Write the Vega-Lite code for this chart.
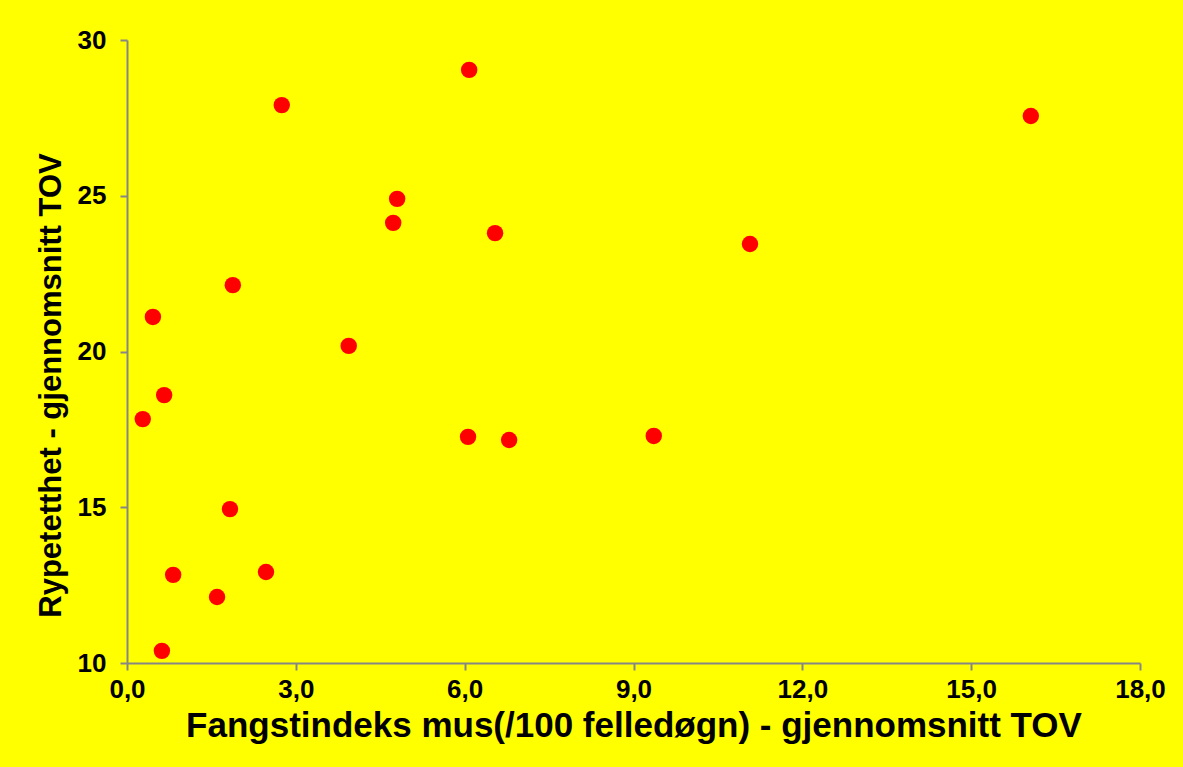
{
  "$schema": "https://vega.github.io/schema/vega-lite/v6.json",
  "width": 1013,
  "height": 623,
  "autosize": {"type": "none"},
  "padding": {"left": 127, "top": 40, "right": 43, "bottom": 104},
  "background": "#FFFF00",
  "config": {
    "view": {"stroke": null},
    "font": "Liberation Sans"
  },
  "data": {
    "values": [
      {"mus": 0.28, "rype": 17.83},
      {"mus": 0.46, "rype": 21.11},
      {"mus": 0.66, "rype": 18.60},
      {"mus": 0.62, "rype": 10.39},
      {"mus": 0.82, "rype": 12.83},
      {"mus": 1.60, "rype": 12.12},
      {"mus": 1.83, "rype": 14.94},
      {"mus": 1.88, "rype": 22.13},
      {"mus": 2.47, "rype": 12.92},
      {"mus": 2.75, "rype": 27.91},
      {"mus": 3.94, "rype": 20.18},
      {"mus": 4.73, "rype": 24.13},
      {"mus": 4.80, "rype": 24.90},
      {"mus": 6.06, "rype": 17.26},
      {"mus": 6.08, "rype": 29.04},
      {"mus": 6.54, "rype": 23.80},
      {"mus": 6.79, "rype": 17.16},
      {"mus": 9.36, "rype": 17.29},
      {"mus": 11.07, "rype": 23.45},
      {"mus": 16.06, "rype": 27.56}
    ]
  },
  "mark": {"type": "point", "filled": true, "shape": "circle", "size": 270, "color": "#FF0000", "opacity": 1},
  "encoding": {
    "x": {
      "field": "mus",
      "type": "quantitative",
      "scale": {"domain": [0, 18], "nice": false, "zero": false},
      "axis": {
        "title": "Fangstindeks mus(/100 felledøgn) - gjennomsnitt TOV",
        "titleFont": "Liberation Sans",
        "titleFontSize": 35,
        "titleFontWeight": "bold",
        "titleColor": "#000000",
        "titlePadding": 6,
        "values": [0, 3, 6, 9, 12, 15, 18],
        "labelExpr": "replace(format(datum.value, '.1f'), '.', ',')",
        "labelFont": "Liberation Sans",
        "labelFontSize": 26,
        "labelFontWeight": "bold",
        "labelColor": "#000000",
        "labelPadding": 6,
        "labelFlush": false,
        "grid": false,
        "domainColor": "#868686",
        "domainWidth": 2,
        "tickColor": "#868686",
        "tickWidth": 2,
        "tickSize": 7
      }
    },
    "y": {
      "field": "rype",
      "type": "quantitative",
      "scale": {"domain": [10, 30], "nice": false, "zero": false},
      "axis": {
        "title": "Rypetetthet - gjennomsnitt TOV",
        "titleFont": "Liberation Sans",
        "titleFontSize": 31,
        "titleFontWeight": "bold",
        "titleColor": "#000000",
        "titlePadding": 10,
        "titleY": 345,
        "values": [10, 15, 20, 25, 30],
        "labelFont": "Liberation Sans",
        "labelFontSize": 26,
        "labelFontWeight": "bold",
        "labelColor": "#000000",
        "labelPadding": 14,
        "labelFlush": false,
        "grid": false,
        "domainColor": "#868686",
        "domainWidth": 2,
        "tickColor": "#868686",
        "tickWidth": 2,
        "tickSize": 7
      }
    }
  }
}
